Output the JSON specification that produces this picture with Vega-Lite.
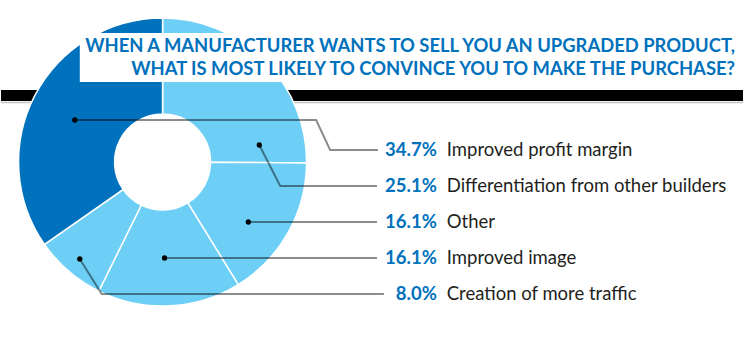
{
  "$schema": "https://vega.github.io/schema/vega-lite/v6.json",
  "width": 744,
  "height": 354,
  "autosize": {"type": "fit", "contains": "padding"},
  "padding": 0,
  "background": "#ffffff",
  "config": {"view": {"stroke": null}},
  "datasets": {
    "answers": [
      {"category": "Differentiation from other builders", "share": 25.1, "pct": "25.1%", "sliceOrder": 1, "labelRank": 2},
      {"category": "Other", "share": 16.1, "pct": "16.1%", "sliceOrder": 2, "labelRank": 3},
      {"category": "Improved image", "share": 16.1, "pct": "16.1%", "sliceOrder": 3, "labelRank": 4},
      {"category": "Creation of more traffic", "share": 8.0, "pct": "8.0%", "sliceOrder": 4, "labelRank": 5},
      {"category": "Improved profit margin", "share": 34.7, "pct": "34.7%", "sliceOrder": 5, "labelRank": 1}
    ],
    "leaders": [
      {"category": "Improved profit margin", "i": 0, "lx": 74, "ly": 120},
      {"category": "Improved profit margin", "i": 1, "lx": 316, "ly": 120},
      {"category": "Improved profit margin", "i": 2, "lx": 330, "ly": 150},
      {"category": "Improved profit margin", "i": 3, "lx": 378, "ly": 150},
      {"category": "Differentiation from other builders", "i": 0, "lx": 259, "ly": 145},
      {"category": "Differentiation from other builders", "i": 1, "lx": 280, "ly": 186},
      {"category": "Differentiation from other builders", "i": 2, "lx": 377, "ly": 186},
      {"category": "Other", "i": 0, "lx": 248, "ly": 222},
      {"category": "Other", "i": 1, "lx": 377, "ly": 222},
      {"category": "Improved image", "i": 0, "lx": 164, "ly": 258},
      {"category": "Improved image", "i": 1, "lx": 377, "ly": 258},
      {"category": "Creation of more traffic", "i": 0, "lx": 79, "ly": 259},
      {"category": "Creation of more traffic", "i": 1, "lx": 101, "ly": 294},
      {"category": "Creation of more traffic", "i": 2, "lx": 384, "ly": 294}
    ],
    "heading": [
      {"text": "WHEN A MANUFACTURER WANTS TO SELL YOU AN UPGRADED PRODUCT,\nWHAT IS MOST LIKELY TO CONVINCE YOU TO MAKE THE PURCHASE?"}
    ]
  },
  "resolve": {"scale": {"y": "independent"}},
  "layer": [
    {
      "data": {"values": [{}]},
      "mark": {"type": "rect", "color": "#000000"},
      "encoding": {
        "x": {"datum": 0, "type": "quantitative", "scale": {"domain": [0, 744], "nice": false, "zero": false}, "axis": null},
        "x2": {"datum": 744},
        "y": {"datum": 90, "type": "quantitative", "scale": {"domain": [0, 354], "range": [0, 354], "nice": false, "zero": false}, "axis": null},
        "y2": {"datum": 101}
      }
    },
    {
      "data": {"values": [{}]},
      "mark": {"type": "rule", "color": "#c4c4c4", "strokeWidth": 1.5},
      "encoding": {
        "x": {"datum": 0, "type": "quantitative", "axis": null},
        "x2": {"datum": 744},
        "y": {"datum": 102.5, "type": "quantitative", "scale": {"domain": [0, 354], "range": [0, 354], "nice": false, "zero": false}, "axis": null}
      }
    },
    {
      "data": {"name": "answers"},
      "mark": {"type": "arc", "radius": 144, "radius2": 48, "stroke": "#ffffff", "strokeWidth": 1.5},
      "encoding": {
        "x": {"datum": 162, "type": "quantitative", "axis": null},
        "y": {"datum": 162, "type": "quantitative", "scale": {"domain": [0, 354], "range": [0, 354], "nice": false, "zero": false}, "axis": null},
        "theta": {"field": "share", "type": "quantitative", "stack": true},
        "order": {"field": "sliceOrder", "type": "quantitative"},
        "color": {
          "field": "category",
          "type": "nominal",
          "legend": null,
          "scale": {
            "domain": ["Improved profit margin", "Differentiation from other builders", "Other", "Improved image", "Creation of more traffic"],
            "range": ["#0071bc", "#6dcff6", "#6dcff6", "#6dcff6", "#6dcff6"]
          }
        }
      }
    },
    {
      "data": {"values": [{}]},
      "mark": {"type": "rect", "color": "#ffffff"},
      "encoding": {
        "x": {"datum": 79, "type": "quantitative", "axis": null},
        "x2": {"datum": 744},
        "y": {"datum": 33, "type": "quantitative", "scale": {"domain": [0, 354], "range": [0, 354], "nice": false, "zero": false}, "axis": null},
        "y2": {"datum": 82}
      }
    },
    {
      "data": {"name": "heading"},
      "mark": {"type": "text", "align": "right", "baseline": "top", "lineBreak": "\n", "font": "Lato", "fontWeight": "bold", "fontSize": 18.4, "lineHeight": 23, "color": "#0071bc"},
      "encoding": {
        "x": {"datum": 736, "type": "quantitative", "axis": null},
        "y": {"datum": 36.5, "type": "quantitative", "scale": {"domain": [0, 354], "range": [0, 354], "nice": false, "zero": false}, "axis": null},
        "text": {"field": "text"}
      }
    },
    {
      "data": {"name": "leaders"},
      "mark": {"type": "line", "color": "#000000", "opacity": 0.45, "strokeWidth": 2},
      "encoding": {
        "x": {"field": "lx", "type": "quantitative", "axis": null},
        "y": {"field": "ly", "type": "quantitative", "scale": {"domain": [0, 354], "range": [0, 354], "nice": false, "zero": false}, "axis": null},
        "detail": {"field": "category"},
        "order": {"field": "i", "type": "quantitative"}
      }
    },
    {
      "data": {"name": "leaders"},
      "transform": [{"filter": "datum.i == 0"}],
      "mark": {"type": "point", "filled": true, "color": "#000000", "opacity": 1, "size": 28},
      "encoding": {
        "x": {"field": "lx", "type": "quantitative", "axis": null},
        "y": {"field": "ly", "type": "quantitative", "scale": {"domain": [0, 354], "range": [0, 354], "nice": false, "zero": false}, "axis": null}
      }
    },
    {
      "data": {"name": "answers"},
      "mark": {"type": "text", "align": "right", "baseline": "middle", "font": "Lato", "fontWeight": "bold", "fontSize": 18.5, "color": "#0071bc"},
      "encoding": {
        "x": {"datum": 437, "type": "quantitative", "axis": null},
        "y": {"field": "labelRank", "type": "quantitative", "scale": {"domain": [1, 5], "range": [150, 294], "nice": false, "zero": false}, "axis": null},
        "text": {"field": "pct"}
      }
    },
    {
      "data": {"name": "answers"},
      "mark": {"type": "text", "align": "left", "baseline": "middle", "font": "Lato", "fontSize": 18.5, "color": "#231f20"},
      "encoding": {
        "x": {"datum": 447, "type": "quantitative", "axis": null},
        "y": {"field": "labelRank", "type": "quantitative", "scale": {"domain": [1, 5], "range": [150, 294], "nice": false, "zero": false}, "axis": null},
        "text": {"field": "category"}
      }
    }
  ]
}
